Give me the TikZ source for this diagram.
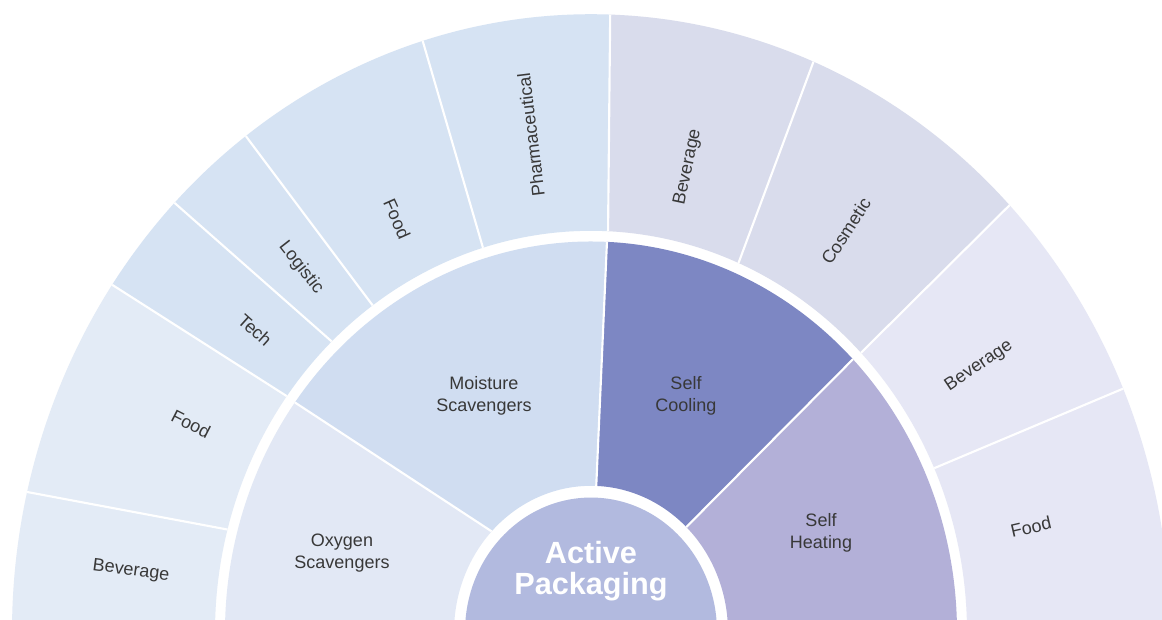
\documentclass[tikz,border=0pt]{standalone}
\usepackage{fontspec}
\setmainfont{Liberation Sans}
\definecolor{cCenter}{HTML}{B2BADF}
\definecolor{cMoist}{HTML}{D0DDF1}
\definecolor{cOxy}{HTML}{E2E8F5}
\definecolor{cCool}{HTML}{7D87C3}
\definecolor{cHeat}{HTML}{B3B0D8}
\definecolor{oMoist}{HTML}{D6E3F3}
\definecolor{oOxy}{HTML}{E3EBF6}
\definecolor{oCool}{HTML}{D9DCEC}
\definecolor{oHeat}{HTML}{E6E7F5}
\definecolor{txt}{HTML}{383838}
% #1 colour, #2 in-angle 1, #3 out-angle 1, #4 in-angle 2, #5 out-angle 2, #6 inner r, #7 outer r
\newcommand\ringsector[7]{%
  \fill[#1] (#2:#6) -- (#3:#7)
    arc[start angle=#3, end angle=#5, radius=#7*0.75pt]
    -- (#4:#6)
    arc[start angle=#4, end angle=#2, radius=#6*0.75pt] -- cycle;}
\newcommand\sepline[4]{\draw[sepl] (#1:#3) -- (#2:#4);}
\tikzset{
  sepl/.style={white, line width=1.6pt},
  lbl/.style={text=txt, font=\fontsize{13.5}{17}\selectfont, inner sep=0pt},
  ilbl/.style={text=txt, font=\fontsize{13.5}{17}\selectfont, align=center, inner sep=0pt},
  clbl/.style={text=white, font=\fontsize{23}{23}\selectfont\bfseries, align=center, inner sep=0pt}
}
\begin{document}
\begin{tikzpicture}[x=0.75pt, y=0.75pt]
\useasboundingbox (-591,12) rectangle (571,632);
\fill[white] (-591,12) rectangle (571,632);
\clip (-591,12) rectangle (571,632);
\begin{scope}[yscale=1.067]
  % outer ring
  \ringsector{oHeat}{-5}{-5}{24.1}{23.2}{376}{579}
  \ringsector{oHeat}{24.1}{23.2}{44.1}{43.7}{376}{579}
  \ringsector{oCool}{44.1}{43.7}{66.9}{67.4}{376}{579}
  \ringsector{oCool}{66.9}{67.4}{87.4}{88.1}{376}{579}
  \ringsector{oMoist}{87.4}{88.1}{106.7}{106.9}{376}{579}
  \ringsector{oMoist}{106.7}{106.9}{125.5}{126.6}{376}{579}
  \ringsector{oMoist}{125.5}{126.6}{133.6}{136.0}{376}{579}
  \ringsector{oMoist}{133.6}{136.0}{144.0}{145.8}{376}{579}
  \ringsector{oOxy}{144.0}{145.8}{165.2}{166.9}{376}{579}
  \ringsector{oOxy}{165.2}{166.9}{185}{185}{376}{579}
  \sepline{24.1}{23.2}{376}{579}
  \sepline{44.1}{43.7}{376}{579}
  \sepline{66.9}{67.4}{376}{579}
  \sepline{87.4}{88.1}{376}{579}
  \sepline{106.7}{106.9}{376}{579}
  \sepline{125.5}{126.6}{376}{579}
  \sepline{133.6}{136.0}{376}{579}
  \sepline{144.0}{145.8}{376}{579}
  \sepline{165.2}{166.9}{376}{579}
  % inner ring
  \ringsector{cHeat}{-5}{-5}{45.9}{44.3}{137}{366}
  \ringsector{cCool}{45.9}{44.3}{87.8}{87.5}{137}{366}
  \ringsector{cMoist}{87.8}{87.5}{136.5}{144}{137}{366}
  \ringsector{cOxy}{136.5}{144}{185}{185}{137}{366}
  \sepline{45.9}{44.3}{137}{366}
  \sepline{87.8}{87.5}{137}{366}
  \sepline{136.5}{144}{137}{366}
  % centre
  \fill[cCenter] (0,0) circle[radius=94.5pt];
\end{scope}
% outer labels
\node[lbl, rotate=-7.5] (bevL) at (-460,61) {Beverage};
\node[lbl, rotate=-27] (foodL) at (-400,208) {Food};
\node[lbl, rotate=-42] (tech) at (-336,302) {Tech};
\node[lbl, rotate=-52] (logi) at (-290,364) {Logistic};
\node[lbl, rotate=-66] (foodU) at (-194,413) {Food};
\node[lbl, rotate=97] (pharma) at (-60,497) {Pharmaceutical};
\node[lbl, rotate=78] (bevT) at (97,465) {Beverage};
\node[lbl, rotate=57] (cosm) at (255,401) {Cosmetic};
\node[lbl, rotate=34] (bevR) at (388,266) {Beverage};
\node[lbl, rotate=13] (foodR) at (440,105) {Food};
% inner labels
\node[ilbl] (moist) at (-107,236) {Moisture\\Scavengers};
\node[ilbl] (cool) at (95,236) {Self\\Cooling};
\node[ilbl] (oxy) at (-249,79) {Oxygen\\Scavengers};
\node[ilbl] (heat) at (230,99) {Self\\Heating};
% centre label
\node[clbl] (centre) at (0,61) {Active\\Packaging};
\end{tikzpicture}
\end{document}
